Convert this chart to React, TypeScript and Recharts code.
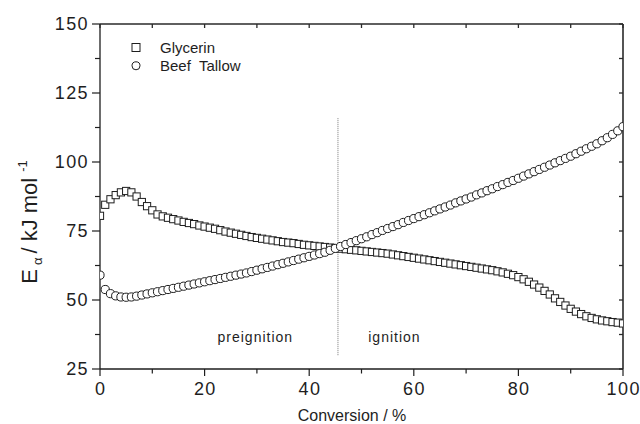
import React from 'react';
import { ScatterChart, Scatter, XAxis, YAxis, ReferenceLine, ReferenceDot, Legend, CartesianGrid } from 'recharts';

const FONT = '"Liberation Sans", Arial, Helvetica, sans-serif';
const INK = '#1e1e1e';
const FRAME = '#2a2a2a';

// Conversion (%)
const conversion = [
  0, 1, 2, 3, 4, 5, 6, 7, 8, 9, 10, 11, 12, 13, 14, 15, 16, 17, 18, 19, 20,
  21, 22, 23, 24, 25, 26, 27, 28, 29, 30, 31, 32, 33, 34, 35, 36, 37, 38, 39, 40,
  41, 42, 43, 44, 45, 46, 47, 48, 49, 50, 51, 52, 53, 54, 55, 56, 57, 58, 59, 60,
  61, 62, 63, 64, 65, 66, 67, 68, 69, 70, 71, 72, 73, 74, 75, 76, 77, 78, 79, 80,
  81, 82, 83, 84, 85, 86, 87, 88, 89, 90, 91, 92, 93, 94, 95, 96, 97, 98, 99, 100,
];

// Activation energy, Glycerin (kJ/mol)
const glycerinEa = [
  80.5, 84.5, 86.5, 88, 89, 89.5, 89, 87.5, 85.5, 84, 82.5,
  81, 80.3, 79.8, 79.3, 78.8, 78.3, 77.9, 77.5, 77, 76.6,
  76.2, 75.8, 75.3, 74.8, 74.4, 74, 73.6, 73.2, 72.8, 72.5,
  72.2, 71.9, 71.6, 71.3, 71, 70.8, 70.6, 70.3, 70, 69.8,
  69.6, 69.4, 69.2, 69, 68.8, 68.6, 68.4, 68.2, 68, 67.8,
  67.6, 67.4, 67.2, 67, 66.8, 66.5, 66.2, 65.9, 65.6, 65.3,
  65, 64.7, 64.4, 64.1, 63.8, 63.5, 63.2, 62.9, 62.6, 62.3,
  62, 61.7, 61.4, 61.1, 60.8, 60.4, 60, 59.5, 59, 58.3,
  57.5, 56.6, 55.6, 54.5, 53.3, 52, 50.6, 49.3, 48, 46.8,
  45.8, 44.9, 44.1, 43.5, 43, 42.6, 42.3, 42, 41.8, 41.5,
];

// Activation energy, Beef Tallow (kJ/mol)
const beefTallowEa = [
  59, 53.8, 52.3, 51.5, 51.1, 51, 51.1, 51.4, 51.8, 52.2, 52.6,
  53, 53.4, 53.8, 54.2, 54.6, 55, 55.4, 55.8, 56.2, 56.6,
  57, 57.4, 57.8, 58.2, 58.6, 59, 59.4, 59.8, 60.3, 60.8,
  61.3, 61.8, 62.3, 62.8, 63.3, 63.8, 64.3, 64.8, 65.3, 65.8,
  66.3, 66.8, 67.3, 68, 68.7, 69.4, 70.1, 70.8, 71.5, 72.2,
  72.9, 73.7, 74.4, 75.2, 75.9, 76.6, 77.3, 78.1, 78.8, 79.5,
  80.2, 80.9, 81.6, 82.3, 83, 83.7, 84.4, 85.2, 85.9, 86.6,
  87.3, 88.1, 88.8, 89.6, 90.3, 91.1, 91.8, 92.6, 93.3, 94.1,
  94.9, 95.7, 96.5, 97.3, 98.1, 98.9, 99.7, 100.5, 101.3, 102.1,
  103, 103.9, 104.8, 105.7, 106.6, 107.7, 108.8, 110, 111.3, 112.8,
];

const seriesNames = ['Glycerin', 'Beef\u00A0 Tallow'];

const xTicks = [0, 10, 20, 30, 40, 50, 60, 70, 80, 90, 100];
const xMajorStep = 20;
const yTicks = [25, 37.5, 50, 62.5, 75, 87.5, 100, 112.5, 125, 137.5, 150];
const yMajorStep = 25;
const xDomain = [0, 100];
const yDomain = [25, 150];

const boundaryConversion = 45.5;
const boundaryEa = [30, 116];

const regionNames = ['preignition', 'ignition'];
const regionX = [29.6, 56.2];
const regionY = [36.5, 36.5];

const glycerinData = conversion.map((x, i) => ({ x, y: glycerinEa[i] }));
const tallowData = conversion.map((x, i) => ({ x, y: beefTallowEa[i] }));

const SquareShape = (props: any) => {
  const { cx, cy } = props;
  if (cx == null || cy == null) return <g />;
  return <rect x={cx - 3.6} y={cy - 3.6} width={7.2} height={7.2} fill="#fff" stroke={INK} strokeWidth={1} />;
};

const CircleShape = (props: any) => {
  const { cx, cy } = props;
  if (cx == null || cy == null) return <g />;
  return <circle cx={cx} cy={cy} r={4.1} fill="#fff" stroke={INK} strokeWidth={1} />;
};

const BottomTick = (props: any) => {
  const { x, y, payload } = props;
  const v = payload.value;
  const major = v % xMajorStep === 0;
  return (
    <g>
      <line x1={x} x2={x} y1={y} y2={y + (major ? 7 : 4.5)} stroke={INK} strokeWidth={1.2} />
      {major && (
        <text x={x + 0.7} y={y + 26} textAnchor="middle" fontSize={18} letterSpacing={1.4} fontFamily={FONT} fill={INK}>
          {v}
        </text>
      )}
    </g>
  );
};

const LeftTick = (props: any) => {
  const { x, y, payload } = props;
  const v = payload.value;
  const major = v % yMajorStep === 0;
  return (
    <g>
      <line x1={x} x2={x - (major ? 8 : 5)} y1={y} y2={y} stroke={INK} strokeWidth={1.2} />
      {major && (
        <text x={x - 11} y={y + 6.4} textAnchor="end" fontSize={18} letterSpacing={1.4} fontFamily={FONT} fill={INK}>
          {v}
        </text>
      )}
    </g>
  );
};

const TopTickShape = (props: any) => {
  const { cx, cy } = props;
  if (cx == null || cy == null) return <g />;
  return <line x1={cx} x2={cx} y1={cy} y2={cy + 4} stroke={FRAME} strokeWidth={1.3} />;
};

const RightTickShape = (props: any) => {
  const { cx, cy } = props;
  if (cx == null || cy == null) return <g />;
  return <line x1={cx} x2={cx - 4} y1={cy} y2={cy} stroke={FRAME} strokeWidth={1.3} />;
};

const LegendContent = () => (
  <svg width={150} height={42} style={{ display: 'block' }}>
    <rect x={6} y={5.5} width={8} height={8} fill="#fff" stroke={INK} strokeWidth={1} />
    <text x={34} y={15.3} fontSize={15} fontFamily={FONT} fill={INK}>{seriesNames[0]}</text>
    <circle cx={10} cy={27.8} r={4} fill="#fff" stroke={INK} strokeWidth={1} />
    <text x={34} y={33} fontSize={15} fontFamily={FONT} fill={INK}>{seriesNames[1]}</text>
  </svg>
);

const regionLabel = (text: string) => (props: any) => {
  const vb = props.viewBox || {};
  const cx = (vb.x || 0) + (vb.width || 0) / 2;
  const cy = (vb.y || 0) + (vb.height || 0) / 2;
  return (
    <text x={cx + 0.5} y={cy + 5} textAnchor="middle" fontSize={14} letterSpacing={1} fontFamily={FONT} fill={INK}>
      {text}
    </text>
  );
};

const XTitle = () => (
  <text x={352} y={421} textAnchor="middle" fontSize={16} fontFamily={FONT} fill={INK}>
    Conversion / %
  </text>
);

const YTitle = () => (
  <text transform="translate(37,222) rotate(-90)" x={0} y={0} textAnchor="middle" fontSize={22} fontFamily={FONT} fill={INK}>
    E
    <tspan fontSize={13} dx={4} dy={5}>α</tspan>
    <tspan dx={4} dy={-5}>/ kJ mol</tspan>
    <tspan fontSize={13} dx={6} dy={-10}>-1</tspan>
  </text>
);

export default function App() {
  return (
    <div style={{ position: 'absolute', left: 0, top: 0, width: 640, height: 424, background: '#fff' }}>
      <ScatterChart width={640} height={424} margin={{ top: 24, right: 17, bottom: 25, left: 40 }}>
        <CartesianGrid
          horizontalValues={[yDomain[1]]}
          verticalValues={[xDomain[1]]}
          stroke={FRAME}
          strokeWidth={1.6}
        />
        <XAxis
          type="number"
          dataKey="x"
          domain={xDomain}
          ticks={xTicks}
          interval={0}
          allowDataOverflow
          height={30}
          tickSize={0}
          tickMargin={0}
          tickLine={false}
          tick={<BottomTick />}
          axisLine={{ stroke: INK, strokeWidth: 1.3 }}
          label={{ content: () => <XTitle /> }}
        />
        <YAxis
          type="number"
          dataKey="y"
          domain={yDomain}
          ticks={yTicks}
          interval={0}
          allowDataOverflow
          width={60}
          tickSize={0}
          tickMargin={0}
          tickLine={false}
          tick={<LeftTick />}
          axisLine={{ stroke: INK, strokeWidth: 1.3 }}
          label={{ content: () => <YTitle /> }}
        />
        {xTicks.map((v) => (
          <ReferenceDot key={`t${v}`} x={v} y={yDomain[1]} r={1} ifOverflow="visible" shape={TopTickShape} />
        ))}
        {yTicks.map((v) => (
          <ReferenceDot key={`r${v}`} x={xDomain[1]} y={v} r={1} ifOverflow="visible" shape={RightTickShape} />
        ))}
        <Legend
          layout="vertical"
          align="center"
          verticalAlign="middle"
          wrapperStyle={{ position: 'absolute', left: 126, top: 38, width: 150, height: 42 }}
          content={() => <LegendContent />}
        />
        <ReferenceLine
          segment={[
            { x: boundaryConversion, y: boundaryEa[0] },
            { x: boundaryConversion, y: boundaryEa[1] },
          ]}
          stroke="#777"
          strokeWidth={1}
          strokeDasharray="1 1"
        />
        {regionNames.map((name, i) => (
          <ReferenceDot
            key={name}
            x={regionX[i]}
            y={regionY[i]}
            r={0}
            fill="none"
            stroke="none"
            label={{ content: regionLabel(name) }}
          />
        ))}
        <Scatter name={seriesNames[0]} data={glycerinData} shape={SquareShape} isAnimationActive={false} />
        <Scatter name={seriesNames[1]} data={tallowData} shape={CircleShape} isAnimationActive={false} />
      </ScatterChart>
    </div>
  );
}
